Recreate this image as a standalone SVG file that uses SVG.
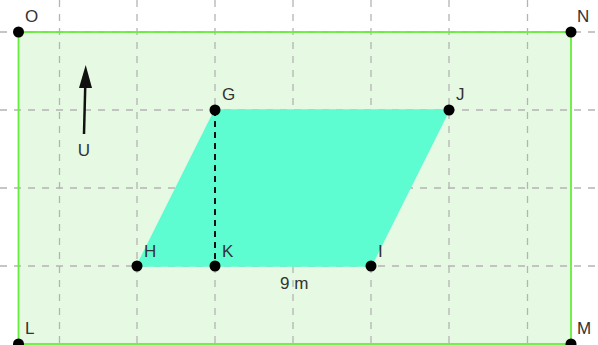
<svg xmlns="http://www.w3.org/2000/svg" width="598" height="345" viewBox="0 0 598 345">
<style>
.grid{stroke:#b4b4b4;stroke-width:1.3;stroke-dasharray:7,7;fill:none}
.lbl{font-family:"Liberation Sans",Arial,sans-serif;font-size:17px;fill:#333}
.pt{fill:#000}
</style>
<rect x="0" y="0" width="598" height="345" fill="#fff"/>
<g id="region">
<rect x="18.5" y="32" width="552.5" height="312" fill="#e6f9e2"/>
</g>
<g id="grid">
<line class="grid" x1="59.5" y1="0" x2="59.5" y2="345"/>
<line class="grid" x1="137" y1="0" x2="137" y2="345"/>
<line class="grid" x1="215" y1="0" x2="215" y2="345"/>
<line class="grid" x1="293" y1="0" x2="293" y2="345"/>
<line class="grid" x1="371" y1="0" x2="371" y2="345"/>
<line class="grid" x1="449" y1="0" x2="449" y2="345"/>
<line class="grid" x1="527.5" y1="0" x2="527.5" y2="345"/>
<line class="grid" x1="0" y1="32" x2="598" y2="32"/>
<line class="grid" x1="0" y1="110" x2="598" y2="110"/>
<line class="grid" x1="0" y1="188" x2="598" y2="188"/>
<line class="grid" x1="0" y1="266" x2="598" y2="266"/>
</g>
<g id="border">
<rect x="18.5" y="32" width="552.5" height="312" fill="none" stroke="#66ee3c" stroke-width="1.8"/>
</g>
<g id="parallelogram">
<polygon points="215,110 449,110 371,266 137,266" fill="#5dfdd1" stroke="#5dfdd1" stroke-width="1.6" stroke-linejoin="round"/>
</g>
<g id="connectors">
<line x1="215" y1="110" x2="215" y2="266" stroke="#111" stroke-width="2" stroke-dasharray="6,5"/>
<line x1="84" y1="134" x2="85.3" y2="84" stroke="#111" stroke-width="2.5"/>
<polygon points="85.7,65 92,88 79,88" fill="#111"/>
</g>
<g id="O"><circle class="pt" cx="18.5" cy="32" r="5.5"/><text class="lbl" x="25" y="22">O</text></g>
<g id="N"><circle class="pt" cx="571" cy="32" r="5.5"/><text class="lbl" x="577" y="22">N</text></g>
<g id="L"><circle class="pt" cx="18.5" cy="344" r="5.5"/><text class="lbl" x="25" y="334">L</text></g>
<g id="M"><circle class="pt" cx="571" cy="344" r="5.5"/><text class="lbl" x="577" y="334">M</text></g>
<g id="G"><circle class="pt" cx="215" cy="110" r="5.5"/><text class="lbl" x="222" y="100">G</text></g>
<g id="J"><circle class="pt" cx="449" cy="110" r="5.5"/><text class="lbl" x="456" y="100">J</text></g>
<g id="H"><circle class="pt" cx="137" cy="266" r="5.5"/><text class="lbl" x="144" y="257">H</text></g>
<g id="K"><circle class="pt" cx="215" cy="266" r="5.5"/><text class="lbl" x="222" y="257">K</text></g>
<g id="I"><circle class="pt" cx="371" cy="266" r="5.5"/><text class="lbl" x="378" y="257">I</text></g>
<g id="U"><text class="lbl" x="84" y="156" text-anchor="middle">U</text></g>
<g id="dim"><text class="lbl" x="280" y="289">9 m</text></g>
</svg>
